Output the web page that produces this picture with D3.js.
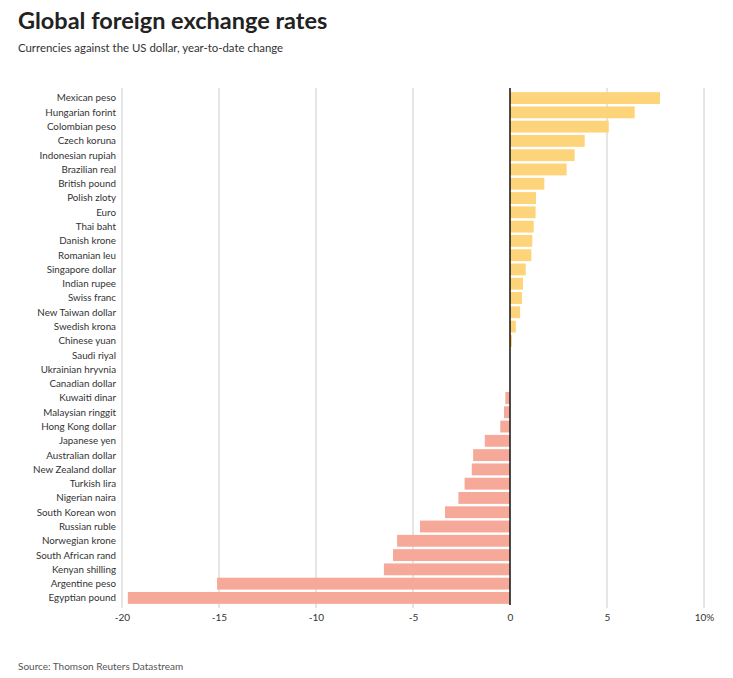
<!DOCTYPE html>
<html><head><meta charset="utf-8">
<script src="https://cdn.jsdelivr.net/npm/d3@7"></script>
<style>
body{margin:0;background:#fff;}
svg{display:block;font-family:"Lato","Open Sans",sans-serif;}
</style></head>
<body>
<svg id="chart" width="733" height="678"></svg>
<script>
const categories = ["Mexican peso","Hungarian forint","Colombian peso","Czech koruna","Indonesian rupiah","Brazilian real","British pound","Polish zloty","Euro","Thai baht","Danish krone","Romanian leu","Singapore dollar","Indian rupee","Swiss franc","New Taiwan dollar","Swedish krona","Chinese yuan","Saudi riyal","Ukrainian hryvnia","Canadian dollar","Kuwaiti dinar","Malaysian ringgit","Hong Kong dollar","Japanese yen","Australian dollar","New Zealand dollar","Turkish lira","Nigerian naira","South Korean won","Russian ruble","Norwegian krone","South African rand","Kenyan shilling","Argentine peso","Egyptian pound"];
const values = [7.73,6.43,5.09,3.85,3.33,2.92,1.77,1.34,1.32,1.22,1.15,1.10,0.81,0.67,0.62,0.52,0.30,0.10,0.0,0.0,0.02,-0.24,-0.31,-0.5,-1.3,-1.9,-1.97,-2.34,-2.66,-3.35,-4.64,-5.82,-6.03,-6.5,-15.1,-19.7];
const tickValues = [-20,-15,-10,-5,0,5,10];
const tickLabels = ["-20","-15","-10","-5","0","5","10%"];
const title = "Global foreign exchange rates";
const subtitle = "Currencies against the US dollar, year-to-date change";
const source = "Source: Thomson Reuters Datastream";

const svg = d3.select("#chart");
const x = d3.scaleLinear().domain([-20,10]).range([122,704]);
const y = d3.scaleBand().domain(categories).range([91,605]).paddingInner(0.17).paddingOuter(0.08);

svg.append("text").attr("x",18).attr("y",29).attr("font-size",23.5).attr("font-weight",700).attr("fill","#222").text(title);
svg.append("text").attr("x",18).attr("y",52).attr("font-size",11.4).attr("fill","#333").text(subtitle);

// grid
svg.append("g").selectAll("line").data(tickValues.filter(d=>d!==0)).join("line")
  .attr("x1",d=>x(d)).attr("x2",d=>x(d)).attr("y1",88).attr("y2",608)
  .attr("stroke","#ccc").attr("stroke-width",1);

// bars
svg.append("g").selectAll("rect").data(categories.map((c,i)=>({c,v:values[i]}))).join("rect")
  .attr("x",d=>x(Math.min(0,d.v))).attr("width",d=>Math.abs(x(d.v)-x(0)))
  .attr("y",d=>y(d.c)).attr("height",y.bandwidth())
  .attr("fill",d=>d.v>=0?"#fed47a":"#f6a998");

// zero line
svg.append("line").attr("x1",x(0)).attr("x2",x(0)).attr("y1",88).attr("y2",605).attr("stroke","#111").attr("stroke-width",1.5);

// category labels
svg.append("g").selectAll("text").data(categories).join("text")
  .attr("x",116).attr("y",d=>y(d)+y.bandwidth()/2).attr("dy","0.35em")
  .attr("text-anchor","end").attr("font-size",9.8).attr("fill","#333").text(d=>d);

// x axis
const xAxis = d3.axisBottom(x).tickValues(tickValues).tickFormat((d,i)=>tickLabels[i]).tickSize(0);
const ax = svg.append("g").attr("transform","translate(0,611)").call(xAxis);
ax.select(".domain").remove();
ax.selectAll("text").attr("font-size",10).attr("fill","#333").attr("font-family","Lato, 'Open Sans', sans-serif");

svg.append("text").attr("x",18).attr("y",670).attr("font-size",10).attr("fill","#555").text(source);
</script>
</body></html>
